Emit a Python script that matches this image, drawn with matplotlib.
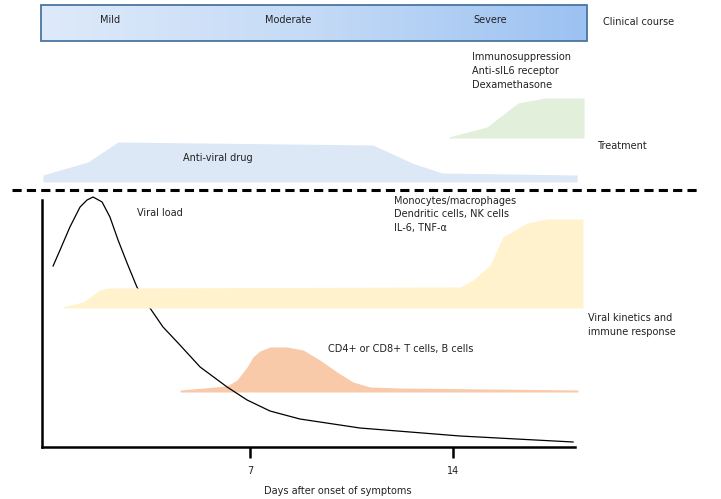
import numpy as np
import matplotlib.pyplot as plt
from matplotlib.patches import Rectangle
from matplotlib.colors import LinearSegmentedColormap

plt.rcParams['font.family'] = ['DejaVu Sans']

# --- data (x in days after onset, y as schematic levels) ---
stages = ['Mild', 'Moderate', 'Severe']
stage_days = [2.17, 8.31, 15.28]

antiviral_days = [-0.14, 1.41, 2.45, 11.24, 12.59, 13.62, 18.28]
antiviral_level = [7, 20, 40, 37, 19, 9, 7]

immuno_days = [13.86, 15.17, 16.24, 17.17, 18.52]
immuno_level = [1, 11, 35, 40, 40]

viral_days = [0.21, 0.45, 0.79, 1.14, 1.38, 1.59, 1.90, 2.17, 2.45, 2.76, 3.10,
              3.55, 4.00, 4.52, 5.28, 6.21, 6.90, 7.69, 8.72, 10.79, 14.24, 18.14]
viral_load = [181, 197, 220, 240, 247, 250, 245, 230, 207, 184, 160,
              139, 120, 104, 80, 60, 47, 36, 28, 19, 11, 5]

innate_days = [0.55, 1.24, 1.83, 2.07, 14.24, 14.69, 15.28, 15.72, 16.55, 17.24, 18.48]
innate_level = [140, 145, 157, 159, 160, 167, 182, 210, 224, 228, 228]

adaptive_days = [4.59, 6.21, 6.55, 6.90, 7.10, 7.34, 7.69, 8.28, 8.83, 9.41,
                 10.00, 10.55, 11.14, 12.17, 18.31]
adaptive_level = [57, 61, 67, 80, 90, 96, 100, 100, 97, 87, 75, 65, 60, 59, 57]

xticks = [7, 14]

txt = '#222222'
fs = 7

fig = plt.figure(figsize=(7.21, 4.99), dpi=100)

# background axes: x in days, y in pixels from top
bg = fig.add_axes([0, 0, 1, 1])
bg.set_xlim(-47 / 29, (721 - 47) / 29)
bg.set_ylim(499, 0)
bg.axis('off')

# clinical course gradient bar
grad = np.linspace(0, 1, 256).reshape(1, -1)
cmap = LinearSegmentedColormap.from_list('cc', ['#deeafa', '#c4daf6', '#9cc2f2'])
bx0, bx1 = (41 - 47) / 29, (587 - 47) / 29
bg.imshow(grad, cmap=cmap, extent=[bx0, bx1, 41, 5], aspect='auto', zorder=1)
bg.add_patch(Rectangle((bx0, 5), bx1 - bx0, 36, fill=False,
                       edgecolor='#4a75a0', lw=1.3, zorder=2))
for s, d in zip(stages, stage_days):
    bg.text(d, 20, s, ha='center', va='center', fontsize=fs, color=txt)
bg.text(19.17, 22, 'Clinical course', ha='left', va='center', fontsize=fs, color=txt)

# treatment
base_av = 182
bg.fill_between(antiviral_days, base_av, base_av - np.array(antiviral_level),
                color='#dce8f6', lw=0)
bg.text(5.9, 158, 'Anti-viral drug', ha='center', va='center', fontsize=fs, color=txt)
base_im = 138
bg.fill_between(immuno_days, base_im, base_im - np.array(immuno_level),
                color='#e2efda', lw=0)
for i, line in enumerate(['Immunosuppression', 'Anti-sIL6 receptor', 'Dexamethasone']):
    bg.text(14.66, 57 + 14 * i, line, ha='left', va='center', fontsize=fs, color=txt)
bg.text(18.97, 146, 'Treatment', ha='left', va='center', fontsize=fs, color=txt)

# dashed separator
bg.plot([-1.21, 22.45], [190, 190], color='black', lw=2.2,
        dashes=(3.0, 1.7), solid_capstyle='butt')

# labels for kinetics panel
bg.text(3.10, 213, 'Viral load', ha='left', va='center', fontsize=fs, color=txt)
bg.text(9.69, 349, 'CD4+ or CD8+ T cells, B cells', ha='left', va='center',
        fontsize=fs, color=txt)
for i, line in enumerate(['Monocytes/macrophages', 'Dendritic cells, NK cells',
                          'IL-6, TNF-\u03b1']):
    bg.text(11.97, 201 + 13.5 * i, line, ha='left', va='center', fontsize=fs, color=txt)
bg.text(18.66, 318, 'Viral kinetics and', ha='left', va='center', fontsize=fs, color=txt)
bg.text(18.66, 332, 'immune response', ha='left', va='center', fontsize=fs, color=txt)
bg.text((338 - 47) / 29, 491, 'Days after onset of symptoms', ha='center',
        va='center', fontsize=fs, color=txt)

# kinetics panel
ax = fig.add_axes([42 / 721, (499 - 447) / 499, (575 - 42) / 721, (447 - 200) / 499])
ax.patch.set_alpha(0)
ax.set_xlim((42 - 47) / 29, (575 - 47) / 29)
ax.set_ylim(0, 247)
ax.fill_between(adaptive_days, 55, adaptive_level, color='#f8caa9', lw=0,
                zorder=1, clip_on=False)
ax.plot(viral_days, viral_load, color='black', lw=0.9, zorder=2, clip_on=False,
        solid_joinstyle='round')
ax.fill_between(innate_days, 139, innate_level, color='#fff2cc', lw=0,
                zorder=3, clip_on=False)
for side in ['top', 'right']:
    ax.spines[side].set_visible(False)
for side in ['left', 'bottom']:
    ax.spines[side].set_linewidth(1.8)
ax.set_yticks([])
ax.set_xticks(xticks)
ax.set_xticklabels([str(t) for t in xticks], fontsize=fs, color=txt)
ax.tick_params(axis='x', length=8, width=1.8, pad=6, direction='out')

fig.savefig('out.png', dpi=100)
